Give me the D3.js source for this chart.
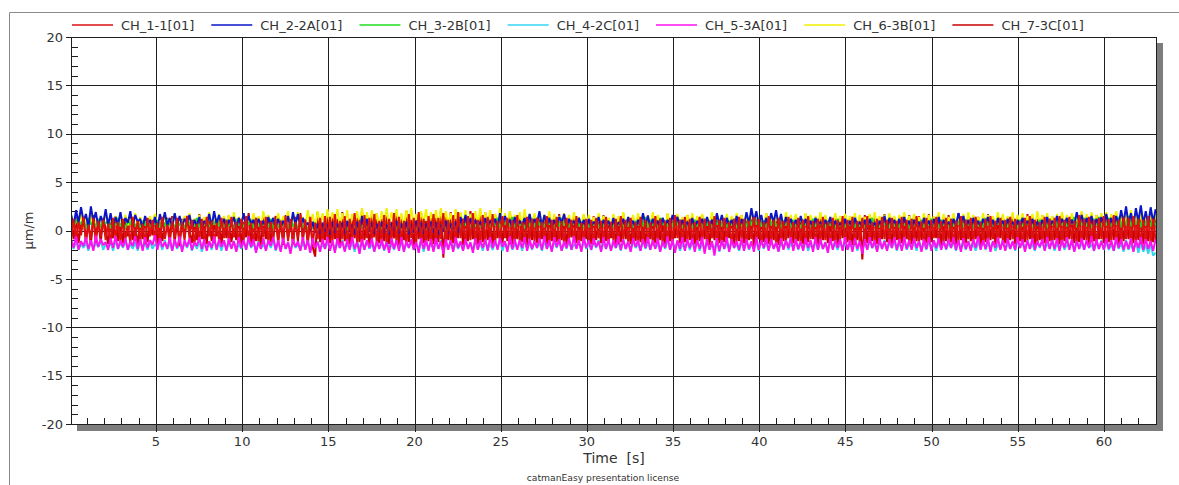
<!DOCTYPE html>
<html>
<head>
<meta charset="utf-8">
<script src="https://cdn.jsdelivr.net/npm/d3@7"></script>
<style>
  html, body { margin: 0; padding: 0; background: #fff; }
  svg { display: block; }
  text { font-family: "DejaVu Sans", Verdana, sans-serif; fill: #333; }
</style>
</head>
<body>
<svg id="chart" width="1179" height="485"></svg>
<script>
// Recording window (s); samples are evenly spaced across it
const timeStart = 0.08;
const timeEnd = 63.0;

const channelNames = ["CH_1-1[01]", "CH_2-2A[01]", "CH_3-2B[01]", "CH_4-2C[01]", "CH_5-3A[01]", "CH_6-3B[01]", "CH_7-3C[01]"];
const channelColors = ["#dd1111", "#0a14c8", "#22dd22", "#33d6ee", "#ff10f0", "#f2f200", "#c80000"];

const yTicks = [-20, -15, -10, -5, 0, 5, 10, 15, 20];
const xTicks = [5, 10, 15, 20, 25, 30, 35, 40, 45, 50, 55, 60];

// strain samples, µm/m (21 samples per row = 3 s)
const ch1 = [
 -0.8,1.2,-1.1,0.9,-0.5,1.4,-1.2,0.6,-0.9,1.3,-1.3,1.0,-0.6,1.1,-1.0,0.7,-1.4,1.3,-0.7,0.9,-1.1,
 1.2,-0.9,0.5,-1.3,1.4,-0.8,1.0,-1.1,0.7,-1.4,1.3,-0.6,1.1,-1.0,0.8,-1.2,1.4,-0.9,0.6,-1.3,1.0,
 -0.7,1.3,-1.2,0.9,-1.0,1.5,-0.8,1.1,-1.4,0.7,-0.9,1.2,-1.1,1.4,-0.6,1.0,-1.3,0.8,-1.0,1.3,-0.8,
 1.1,-1.2,1.4,-0.7,0.9,-1.3,1.2,-1.0,1.5,-0.9,0.8,-1.4,1.3,-1.1,1.0,-0.7,1.4,-1.2,0.9,-1.0,1.2,
 -1.3,1.0,-0.8,1.5,-1.1,1.2,-1.4,0.9,-0.7,1.6,-1.2,1.1,-1.0,1.4,-1.5,0.8,-0.9,1.3,-1.2,1.5,-0.8,
 1.4,-1.1,1.7,-1.3,1.0,-0.9,1.5,-1.4,1.2,-1.0,1.8,-1.2,1.1,-1.5,1.6,-0.8,1.3,-1.1,1.7,-1.3,1.0,
 -1.0,1.6,-1.4,1.2,-0.9,1.8,-1.2,1.4,-1.1,1.0,-1.5,1.7,-0.8,1.3,-1.3,1.9,-1.0,1.2,-1.4,1.5,-1.1,
 1.7,-1.2,1.3,-0.9,1.8,-1.5,1.1,-1.1,1.6,-1.3,1.9,-0.8,1.2,-1.4,1.5,-1.0,1.8,-1.2,1.1,-1.3,1.6,
 -1.1,1.4,-0.9,1.7,-1.3,1.0,-1.2,1.5,-0.8,1.3,-1.4,1.1,-1.0,1.6,-1.2,0.9,-1.3,1.4,-0.9,1.2,-1.1,
 1.3,-1.2,0.9,-1.0,1.5,-1.3,1.1,-0.8,1.4,-1.2,1.0,-1.4,1.3,-0.9,1.1,-1.1,1.5,-1.3,0.8,-1.0,1.2,
 -1.2,1.1,-1.4,1.3,-0.8,1.0,-1.1,1.4,-1.3,0.9,-1.0,1.2,-1.4,1.5,-0.9,1.1,-1.2,1.3,-1.0,0.9,-1.3,
 1.4,-1.0,1.1,-1.3,0.9,-1.2,1.5,-0.9,1.2,-1.4,1.0,-1.1,1.3,-1.2,1.6,-0.8,1.1,-1.3,1.4,-1.0,1.2,
 -1.3,0.9,-1.1,1.4,-1.0,1.2,-1.4,1.0,-0.8,1.5,-1.2,1.1,-1.3,1.3,-1.0,0.9,-1.4,1.2,-1.1,1.4,-0.9,
 1.2,-1.3,1.0,-0.9,1.4,-1.1,1.2,-1.4,0.9,-1.0,1.5,-1.2,1.1,-1.3,1.3,-0.8,1.0,-1.2,1.4,-1.1,0.9,
 -1.0,1.3,-1.2,1.1,-1.4,1.5,-0.9,1.0,-1.3,1.2,-1.1,1.4,-1.0,0.9,-1.4,1.3,-1.2,1.1,-0.9,1.5,-1.3,
 1.1,-1.1,1.4,-1.5,1.0,-1.2,1.3,-1.0,1.5,-1.3,0.9,-1.1,1.2,-1.4,1.4,-0.9,1.1,-1.2,1.3,-1.0,1.0,
 -1.2,1.4,-1.0,1.1,-1.3,1.2,-0.9,1.5,-1.1,1.0,-1.4,1.3,-1.2,1.1,-0.8,1.4,-1.3,1.0,-1.1,1.3,-1.0,
 1.2,-1.4,1.0,-1.1,1.5,-1.2,1.1,-0.9,1.3,-1.3,1.4,-1.0,0.9,-1.2,1.2,-1.1,1.5,-0.9,1.0,-1.3,1.3,
 -1.1,1.1,-1.3,1.4,-0.9,1.2,-1.2,1.0,-1.4,1.3,-1.0,1.5,-1.1,1.1,-1.3,0.9,-1.0,1.4,-1.2,1.2,-1.4,
 1.3,-1.0,1.5,-1.2,1.1,-1.3,1.4,-0.9,1.0,-1.1,1.6,-1.3,1.2,-1.0,1.4,-1.2,1.1,-1.4,1.3,-0.9,1.5,
 -1.2,1.2,-1.0,1.6,-1.3,1.1,-1.1,1.4,-0.9,1.3,-1.2,1.5,-1.0,1.2,-1.4,1.1,-1.1,1.5,-1.3,1.2,-1.0
];
const ch2 = [
 1.6,0.5,2.1,0.8,2.4,1.0,1.7,0.3,2.5,0.9,1.9,0.4,1.5,0.7,2.2,0.5,1.8,0.2,1.4,0.6,1.9,
 0.4,1.3,0.8,2.0,0.5,1.6,0.9,1.2,0.3,1.5,0.6,1.1,0.4,1.4,0.2,1.7,0.7,1.9,0.5,1.3,0.3,
 1.8,0.6,1.5,0.4,1.2,0.8,1.6,0.3,1.1,0.5,1.4,0.2,1.0,0.6,1.7,0.4,2.0,0.7,1.6,0.5,1.2,
 0.3,1.1,0.6,1.4,0.2,1.3,0.5,1.8,0.4,1.5,0.7,1.1,0.3,1.2,0.5,1.0,0.2,1.4,0.6,1.3,0.4,
 1.2,0.3,1.0,0.5,1.5,0.2,1.9,0.6,1.7,0.4,1.3,0.5,0.8,0.0,0.9,-0.2,0.7,-0.3,0.8,-0.1,0.6,
 -0.4,0.9,-0.2,0.7,0.0,0.8,-0.3,1.0,-0.1,0.6,-0.4,0.9,-0.2,1.5,0.3,1.2,0.0,0.8,-0.3,0.7,-0.1,
 0.9,-0.2,0.6,-0.4,0.8,0.0,1.0,-0.3,0.7,-0.1,0.9,-0.4,0.6,-0.2,1.0,-0.1,0.8,-0.3,0.7,0.0,0.9,
 -0.2,0.8,-0.4,0.6,-0.1,1.0,-0.3,0.7,0.1,0.9,-0.2,1.4,0.4,1.6,0.2,1.3,0.3,1.1,0.5,0.9,0.2,
 1.3,0.4,1.0,0.6,1.2,0.3,1.8,0.5,1.5,0.7,1.1,0.2,1.4,0.4,1.0,0.6,1.3,0.3,1.7,0.5,1.2,
 0.7,2.0,0.4,1.6,0.6,1.3,0.3,1.1,0.5,1.4,0.8,1.7,0.4,1.2,0.6,1.0,0.3,1.3,0.5,1.1,0.2,
 1.2,0.4,0.9,0.6,1.4,0.3,1.1,0.5,1.0,0.2,1.3,0.4,0.8,0.6,1.2,0.3,1.4,0.5,1.0,0.2,1.1,
 0.4,1.8,0.6,1.5,0.3,1.2,0.5,1.0,0.2,1.3,0.6,1.1,0.4,1.6,0.7,1.4,0.3,1.1,0.5,0.9,0.2,
 1.3,0.4,1.0,0.6,1.2,0.3,1.4,0.5,1.1,0.2,1.8,0.6,1.6,0.4,1.3,0.5,1.1,0.3,1.5,0.2,1.2,
 0.5,1.9,0.7,2.3,0.9,2.0,0.6,1.6,0.4,1.3,0.6,1.8,0.8,2.1,0.5,1.7,0.3,1.4,0.6,1.2,0.4,
 1.1,0.3,1.5,0.5,1.2,0.2,1.0,0.4,1.3,0.6,0.9,0.3,1.1,0.5,1.4,0.2,1.0,0.4,0.8,0.3,1.2,
 0.4,1.0,0.2,1.3,0.5,0.9,0.3,1.1,0.1,1.2,0.4,0.8,0.2,1.0,0.5,1.5,0.3,1.3,0.6,1.1,0.4,
 1.2,0.3,1.4,0.5,1.0,0.2,1.1,0.4,0.9,0.3,1.3,0.5,1.0,0.2,1.2,0.4,1.4,0.3,1.1,0.5,0.9,
 0.3,1.2,0.5,1.8,0.7,1.5,0.4,1.1,0.2,1.3,0.5,1.0,0.3,1.2,0.6,1.4,0.4,1.1,0.2,1.3,0.5,
 1.0,0.3,1.2,0.5,0.9,0.2,1.1,0.4,1.3,0.6,1.0,0.3,1.2,0.4,0.9,0.2,1.1,0.5,1.4,0.3,1.0,
 0.6,1.5,0.4,1.2,0.7,1.3,0.3,1.1,0.5,1.9,0.8,1.6,0.4,1.3,0.6,1.5,0.3,1.2,0.5,1.4,0.6,
 1.7,0.5,1.3,0.4,1.5,0.6,2.1,0.8,2.5,0.7,1.8,0.5,2.3,0.9,2.6,0.7,2.0,0.6,2.4,0.8,2.2
];
const ch3 = [
 1.0,0.3,1.2,0.5,0.8,1.1,0.2,1.3,0.6,0.9,0.4,1.2,0.3,1.0,0.7,1.1,0.2,0.9,0.5,1.3,0.4,
 0.9,0.2,1.1,0.6,1.3,0.4,0.8,0.3,1.0,0.5,1.2,0.2,0.9,0.6,1.1,0.3,1.0,0.4,1.2,0.5,0.8,
 0.3,1.1,0.5,0.9,0.2,1.2,0.6,1.0,0.4,1.3,0.3,0.8,0.5,1.1,0.2,1.0,0.6,1.2,0.4,0.9,0.3,
 1.1,0.4,0.9,0.2,1.2,0.5,1.0,0.3,0.8,0.6,1.1,0.2,1.3,0.4,0.9,0.5,1.0,0.3,1.2,0.1,0.9,
 0.3,1.0,0.5,0.8,0.2,1.1,0.4,0.9,0.1,1.0,0.3,0.7,0.0,0.9,0.2,0.8,0.1,0.7,0.3,0.9,0.0,
 0.8,0.2,0.9,0.1,0.7,0.3,1.0,0.0,0.8,0.2,0.6,0.1,0.9,0.3,0.7,0.0,0.8,0.2,1.0,0.1,0.7,
 0.2,0.9,0.0,0.8,0.3,0.7,0.1,1.0,0.2,0.8,0.0,0.9,0.3,0.7,0.1,0.8,0.2,1.0,0.0,0.9,0.3,
 0.8,0.1,0.9,0.3,0.7,0.0,1.0,0.2,0.8,0.4,1.1,0.3,1.2,0.5,0.9,0.2,1.0,0.4,0.8,0.3,1.1,
 0.4,1.2,0.3,1.0,0.5,1.3,0.2,0.9,0.6,1.1,0.4,1.4,0.3,1.0,0.5,0.8,0.2,1.1,0.4,1.2,0.3,
 1.3,0.5,1.0,0.3,1.2,0.6,0.9,0.2,1.1,0.4,1.3,0.5,0.8,0.3,1.0,0.6,1.2,0.4,0.9,0.2,1.1,
 0.3,1.0,0.5,1.2,0.2,0.9,0.4,1.1,0.6,0.8,0.3,1.0,0.5,1.2,0.2,0.9,0.4,1.1,0.3,1.0,0.5,
 1.2,0.4,1.4,0.3,1.1,0.5,0.9,0.2,1.3,0.6,1.0,0.4,1.2,0.3,1.5,0.5,1.1,0.2,0.9,0.4,1.0,
 0.2,1.1,0.4,0.9,0.3,1.2,0.5,1.0,0.2,1.3,0.6,1.1,0.4,0.9,0.3,1.0,0.5,1.2,0.2,0.8,0.4,
 1.1,0.3,1.3,0.5,1.4,0.6,1.2,0.4,1.0,0.3,1.1,0.5,1.3,0.4,0.9,0.2,1.0,0.5,1.2,0.3,1.1,
 0.4,0.9,0.2,1.1,0.5,1.0,0.3,1.2,0.4,0.8,0.6,1.1,0.3,1.0,0.5,0.9,0.2,1.2,0.4,1.0,0.3,
 1.0,0.5,1.2,0.3,0.9,0.4,1.1,0.2,1.0,0.6,1.3,0.4,0.8,0.3,1.1,0.5,1.0,0.2,1.2,0.4,0.9,
 0.3,1.1,0.5,0.9,0.2,1.2,0.4,1.0,0.6,1.1,0.3,0.9,0.5,1.2,0.4,1.0,0.2,1.1,0.5,0.8,0.3,
 1.2,0.4,1.0,0.6,1.4,0.3,1.1,0.5,0.9,0.2,1.2,0.4,1.0,0.3,1.3,0.5,1.1,0.4,0.9,0.6,1.2,
 0.4,1.0,0.3,1.2,0.5,0.9,0.2,1.1,0.4,1.0,0.6,1.2,0.3,0.9,0.5,1.1,0.4,1.0,0.2,1.2,0.5,
 1.1,0.3,1.3,0.5,1.0,0.4,1.2,0.6,1.4,0.3,1.1,0.5,1.3,0.4,1.0,0.2,1.2,0.5,1.4,0.3,1.1,
 0.5,1.3,0.4,1.1,0.6,1.4,0.3,1.2,0.5,1.5,0.4,1.1,0.6,1.3,0.3,1.2,0.5,1.4,0.4,1.2,0.5
];
const ch4 = [
 -1.3,-1.9,-1.1,-2.0,-1.4,-1.8,-1.2,-2.1,-1.0,-1.9,-1.3,-1.7,-1.1,-2.0,-1.4,-1.8,-1.2,-2.1,-1.0,-1.9,-1.3,
 -1.8,-1.1,-2.0,-1.4,-1.9,-1.2,-2.1,-1.0,-1.8,-1.3,-2.0,-1.1,-1.9,-1.4,-1.7,-1.2,-2.0,-1.0,-1.9,-1.3,-2.1,
 -1.1,-1.9,-1.4,-2.0,-1.2,-1.8,-1.0,-2.1,-1.3,-1.9,-1.1,-2.2,-1.4,-1.8,-1.2,-2.0,-1.0,-1.9,-1.3,-2.1,-1.1,
 -2.0,-1.3,-1.8,-1.1,-2.1,-1.4,-1.9,-1.2,-2.0,-1.0,-1.8,-1.3,-2.1,-1.1,-1.9,-1.4,-2.0,-1.2,-1.8,-1.0,-2.1,
 -1.2,-2.0,-1.0,-1.9,-1.3,-2.1,-1.1,-1.8,-1.4,-2.0,-1.2,-1.9,-1.0,-2.1,-1.3,-1.8,-1.1,-2.0,-1.4,-1.9,-1.2,
 -1.9,-1.1,-2.1,-1.3,-1.8,-1.0,-2.0,-1.4,-1.9,-1.2,-2.2,-1.1,-1.8,-1.3,-2.0,-1.0,-1.9,-1.4,-2.1,-1.2,-1.8,
 -1.3,-2.1,-1.1,-1.8,-1.4,-2.0,-1.0,-1.9,-1.2,-2.1,-1.3,-1.8,-1.1,-2.0,-1.4,-1.9,-1.0,-2.2,-1.2,-1.8,-1.3,
 -2.0,-1.2,-1.9,-1.0,-2.1,-1.4,-1.8,-1.1,-2.0,-1.3,-1.9,-1.2,-2.1,-1.0,-1.8,-1.4,-2.0,-1.1,-1.9,-1.3,-2.1,
 -1.1,-1.9,-1.4,-2.0,-1.2,-1.8,-1.0,-2.1,-1.3,-1.9,-1.1,-2.0,-1.4,-1.8,-1.2,-2.1,-1.0,-1.9,-1.3,-2.0,-1.1,
 -1.8,-1.3,-2.1,-1.1,-1.9,-1.4,-2.0,-1.2,-1.8,-1.0,-2.1,-1.3,-1.9,-1.1,-2.0,-1.4,-1.8,-1.2,-2.1,-1.0,-1.9,
 -1.4,-2.0,-1.2,-1.8,-1.0,-2.1,-1.3,-1.9,-1.1,-2.0,-1.4,-1.8,-1.2,-2.1,-1.0,-1.9,-1.3,-2.0,-1.1,-1.8,-1.4,
 -2.1,-1.0,-1.9,-1.3,-2.0,-1.1,-1.8,-1.4,-2.1,-1.2,-1.9,-1.0,-2.0,-1.3,-1.8,-1.1,-2.1,-1.4,-1.9,-1.2,-2.0,
 -1.2,-1.8,-1.0,-2.1,-1.3,-1.9,-1.1,-2.0,-1.4,-1.8,-1.2,-2.2,-1.0,-1.9,-1.3,-2.0,-1.1,-1.8,-1.4,-2.1,-1.2,
 -1.9,-1.1,-2.0,-1.4,-1.8,-1.2,-2.1,-1.0,-1.9,-1.3,-2.0,-1.1,-1.8,-1.4,-2.1,-1.2,-1.9,-1.0,-2.0,-1.3,-1.8,
 -1.1,-2.0,-1.3,-1.9,-1.0,-2.1,-1.4,-1.8,-1.2,-2.0,-1.1,-1.9,-1.3,-2.1,-1.0,-1.8,-1.4,-2.0,-1.2,-1.9,-1.1,
 -2.0,-1.4,-1.8,-1.2,-2.1,-1.0,-1.9,-1.3,-2.0,-1.1,-1.8,-1.4,-2.1,-1.2,-1.9,-1.0,-2.0,-1.3,-1.8,-1.1,-2.1,
 -1.3,-1.9,-1.1,-2.0,-1.4,-1.8,-1.2,-2.1,-1.0,-1.9,-1.3,-2.0,-1.1,-1.8,-1.4,-2.1,-1.2,-1.9,-1.0,-2.0,-1.3,
 -1.8,-1.2,-2.1,-1.0,-1.9,-1.3,-2.0,-1.1,-1.8,-1.4,-2.1,-1.2,-1.9,-1.0,-2.0,-1.3,-1.8,-1.1,-2.1,-1.4,-1.9,
 -1.0,-2.0,-1.4,-1.9,-1.2,-2.1,-1.1,-1.8,-1.3,-2.0,-1.0,-1.9,-1.4,-2.1,-1.2,-1.8,-1.1,-2.0,-1.3,-1.9,-1.0,
 -2.1,-1.3,-1.9,-1.1,-2.0,-1.4,-1.8,-1.2,-2.1,-1.0,-1.9,-1.3,-2.0,-1.1,-1.8,-1.4,-2.1,-1.2,-1.9,-1.0,-2.0,
 -1.2,-2.0,-1.4,-2.1,-1.1,-1.9,-1.3,-2.2,-1.0,-2.0,-1.4,-2.1,-1.2,-2.3,-1.3,-2.2,-1.5,-2.4,-1.4,-2.6,-2.3
];
const ch5 = [
 -0.9,-1.8,-0.6,-2.0,-1.1,-1.6,-0.7,-1.9,-1.0,-2.1,-0.5,-1.7,-0.9,-1.5,-1.2,-2.0,-0.8,-1.8,-0.6,-1.9,-1.0,
 -1.7,-0.8,-2.0,-1.1,-1.6,-0.6,-1.9,-0.9,-2.1,-0.7,-1.8,-1.0,-1.5,-0.5,-2.0,-0.8,-1.7,-1.2,-1.9,-0.7,-2.1,
 -0.9,-1.8,-0.6,-2.2,-1.0,-1.7,-0.8,-2.0,-1.2,-1.6,-0.7,-1.9,-0.9,-2.1,-1.1,-1.8,-0.6,-2.0,-0.9,-1.7,-1.0,
 -2.1,-0.8,-1.9,-1.1,-2.2,-0.7,-1.8,-1.0,-2.0,-0.6,-1.7,-0.9,-2.3,-1.2,-1.9,-0.8,-2.1,-1.0,-1.6,-0.7,-2.0,
 -1.0,-2.2,-0.8,-1.9,-1.2,-2.4,-0.9,-1.7,-1.1,-2.1,-0.7,-2.0,-1.0,-2.3,-0.8,-1.8,-1.2,-2.2,-0.9,-1.9,-0.7,
 -2.1,-1.0,-2.3,-0.8,-1.8,-1.1,-2.2,-0.9,-2.0,-0.7,-1.9,-1.2,-2.4,-0.9,-2.0,-1.0,-1.8,-0.8,-2.2,-1.1,-1.9,
 -0.9,-2.0,-1.2,-2.3,-0.8,-1.9,-1.0,-2.1,-0.7,-2.2,-1.1,-1.8,-0.9,-2.0,-1.2,-2.3,-0.8,-1.9,-1.0,-2.1,-0.9,
 -2.2,-0.8,-1.9,-1.1,-2.4,-0.9,-2.0,-1.0,-2.2,-0.7,-1.8,-1.1,-2.1,-0.9,-1.9,-1.2,-2.3,-0.8,-2.0,-1.0,-1.8,
 -0.9,-2.1,-0.7,-1.8,-1.0,-2.0,-0.8,-1.7,-1.1,-2.2,-0.6,-1.9,-0.9,-2.0,-1.0,-1.8,-0.7,-2.1,-0.9,-1.9,-1.1,
 -1.8,-0.8,-2.0,-0.6,-1.9,-1.0,-2.2,-0.7,-1.7,-0.9,-2.1,-1.1,-1.8,-0.8,-2.0,-0.6,-1.9,-1.0,-2.2,-0.7,-1.8,
 -1.0,-2.0,-0.8,-1.7,-1.1,-2.2,-0.7,-1.9,-0.9,-2.1,-1.0,-1.8,-0.6,-2.0,-0.9,-1.9,-1.1,-2.2,-0.8,-1.7,-1.0,
 -2.1,-0.9,-1.8,-0.7,-2.0,-1.0,-1.9,-0.8,-2.2,-1.1,-1.8,-0.6,-2.0,-0.9,-2.3,-1.0,-1.9,-0.7,-2.1,-0.9,-1.8,
 -0.8,-2.2,-1.0,-1.9,-0.7,-2.4,-0.9,-2.0,-1.1,-2.6,-0.8,-2.1,-1.0,-1.9,-0.7,-2.2,-0.9,-1.8,-1.1,-2.0,-0.8,
 -2.1,-0.9,-1.9,-1.1,-2.2,-0.7,-2.0,-1.0,-1.8,-0.8,-2.1,-0.9,-1.9,-1.2,-2.2,-0.8,-2.0,-1.0,-1.8,-0.7,-2.1,
 -0.9,-1.9,-1.1,-2.1,-0.8,-1.8,-1.0,-2.2,-0.7,-2.0,-0.9,-1.9,-1.2,-2.3,-0.8,-2.0,-1.0,-1.8,-0.9,-2.1,-0.7,
 -2.0,-1.0,-2.2,-0.8,-1.9,-1.1,-2.4,-0.9,-2.0,-0.7,-1.8,-1.0,-2.2,-0.8,-1.9,-1.1,-2.1,-0.9,-1.8,-0.7,-2.0,
 -0.9,-2.1,-0.7,-1.9,-1.0,-2.0,-0.8,-1.8,-1.1,-2.2,-0.9,-1.9,-0.7,-2.1,-1.0,-1.8,-0.8,-2.0,-1.1,-1.9,-0.9,
 -1.8,-0.7,-2.0,-1.0,-2.2,-0.8,-1.9,-1.1,-2.1,-0.9,-1.8,-0.6,-2.0,-1.0,-1.9,-0.8,-2.2,-1.1,-1.8,-0.7,-2.0,
 -1.0,-2.1,-0.8,-1.9,-1.1,-2.0,-0.7,-1.8,-0.9,-2.2,-1.0,-1.9,-0.8,-2.0,-1.1,-1.7,-0.9,-2.1,-0.7,-1.9,-1.0,
 -1.9,-0.8,-2.1,-1.0,-1.8,-0.7,-2.0,-0.9,-2.2,-1.1,-1.9,-0.8,-2.0,-1.0,-1.8,-0.6,-2.1,-0.9,-1.9,-1.1,-2.0,
 -0.8,-1.9,-1.0,-2.1,-0.7,-1.8,-0.9,-2.0,-1.1,-1.9,-0.8,-2.2,-1.0,-1.8,-0.7,-2.0,-0.9,-1.9,-1.1,-2.1,-0.9
];
const ch6 = [
 1.5,0.4,1.2,0.7,1.7,0.3,1.3,0.6,1.6,0.2,1.1,0.5,1.4,0.8,1.8,0.4,1.2,0.6,1.5,0.3,1.3,
 0.5,1.6,0.3,1.2,0.7,1.8,0.4,1.4,0.6,1.1,0.2,1.5,0.5,1.7,0.3,1.3,0.6,1.6,0.4,1.2,0.7,
 1.7,0.4,1.3,0.6,1.5,0.2,1.8,0.5,1.2,0.7,1.6,0.3,1.4,0.6,1.9,0.4,1.3,0.5,1.7,0.2,1.5,
 0.6,1.6,0.3,1.9,0.5,1.4,0.7,1.7,0.4,1.2,0.6,1.8,0.3,1.5,0.5,2.0,0.4,1.6,0.7,1.3,0.5,
 1.8,0.4,1.5,0.7,2.0,0.3,1.6,0.5,1.9,0.6,1.4,0.4,2.1,0.5,1.7,0.3,2.0,0.6,1.8,0.4,2.2,
 0.5,1.9,0.7,2.2,0.4,1.8,0.6,2.1,0.3,1.7,0.5,2.0,0.7,2.3,0.4,1.9,0.6,2.1,0.5,1.8,0.3,
 2.0,0.6,2.3,0.4,1.9,0.7,2.2,0.5,1.8,0.3,2.1,0.6,2.3,0.4,1.7,0.5,2.0,0.7,2.2,0.4,1.9,
 0.6,2.1,0.4,2.3,0.5,2.0,0.7,1.8,0.3,2.2,0.6,1.9,0.4,2.1,0.5,1.7,0.3,2.0,0.6,2.3,0.4,
 1.9,0.5,2.1,0.3,1.7,0.6,2.3,0.4,1.8,0.5,2.0,0.7,1.6,0.3,1.9,0.5,2.2,0.4,1.7,0.6,1.8,
 0.4,1.9,0.6,1.6,0.3,2.0,0.5,1.7,0.4,1.5,0.6,1.8,0.3,1.6,0.5,1.9,0.4,1.4,0.6,1.7,0.3,
 1.6,0.5,1.4,0.3,1.8,0.6,1.5,0.4,1.3,0.5,1.7,0.3,1.5,0.6,1.9,0.4,1.4,0.5,1.6,0.3,1.8,
 0.5,1.7,0.3,1.5,0.6,1.9,0.4,1.6,0.5,1.3,0.3,1.8,0.6,1.5,0.4,1.7,0.5,1.4,0.3,1.6,0.6,
 1.8,0.4,1.5,0.6,1.7,0.3,1.4,0.5,1.9,0.4,1.6,0.6,1.3,0.3,1.7,0.5,1.5,0.4,1.8,0.6,1.6,
 0.3,1.6,0.5,1.9,0.4,1.7,0.6,1.5,0.3,1.8,0.5,1.4,0.4,1.7,0.6,1.5,0.3,1.9,0.5,1.6,0.4,
 1.7,0.5,1.4,0.3,1.8,0.6,1.6,0.4,1.5,0.5,1.9,0.3,1.6,0.6,1.4,0.4,1.8,0.5,1.5,0.3,1.7,
 0.6,1.5,0.4,1.8,0.3,1.6,0.5,1.4,0.6,1.7,0.4,1.9,0.5,1.5,0.3,1.6,0.6,1.8,0.4,1.5,0.5,
 1.6,0.3,1.9,0.5,1.5,0.4,1.7,0.6,1.4,0.3,1.8,0.5,1.6,0.4,1.5,0.6,1.9,0.3,1.7,0.5,1.4,
 0.4,1.8,0.6,1.5,0.3,1.7,0.5,1.9,0.4,1.6,0.6,1.4,0.3,1.8,0.5,1.6,0.4,1.5,0.6,1.9,0.3,
 1.7,0.5,1.5,0.4,1.9,0.3,1.6,0.6,1.8,0.4,1.5,0.5,1.7,0.3,2.0,0.6,1.6,0.4,1.8,0.5,1.5,
 0.5,1.7,0.3,1.9,0.6,1.6,0.4,1.8,0.5,1.5,0.3,2.0,0.6,1.7,0.4,1.9,0.5,1.6,0.3,1.8,0.6,
 1.9,0.4,1.7,0.6,2.0,0.5,1.6,0.3,1.8,0.6,2.1,0.4,1.7,0.5,1.9,0.3,1.6,0.5,1.8,0.4,1.7
];
const ch7 = [
 1.1,-0.9,1.4,-1.3,0.6,1.2,-1.0,0.8,-1.5,1.6,-0.7,1.0,-1.2,1.3,0.2,-1.4,0.9,-0.8,1.5,-1.1,0.7,
 -1.3,1.2,-0.6,1.7,-1.0,0.4,-1.5,1.1,-0.9,1.4,-1.2,0.8,-0.5,1.6,-1.4,1.0,-1.1,0.6,1.3,-0.8,1.5,
 -1.2,0.9,-1.6,1.2,-0.7,1.5,0.1,-1.3,1.0,-1.0,1.7,-0.9,0.7,-1.4,1.3,-1.1,0.8,-0.6,1.4,-1.5,1.1,
 -0.8,1.6,-1.2,0.5,-1.0,1.3,-1.4,0.9,-0.7,1.8,-1.3,1.0,-1.1,0.6,-1.6,1.4,-0.9,1.2,-1.2,0.7,1.5,
 -1.0,1.1,-1.5,1.6,-0.8,0.9,-1.3,1.4,-1.1,1.8,-0.6,1.2,-1.4,1.0,-1.7,-2.7,1.9,-1.2,0.8,-1.0,1.5,
 -1.3,1.7,-0.9,1.2,-1.5,1.9,-1.1,0.7,-1.4,1.6,-0.8,1.3,-1.2,2.0,-1.0,1.1,-1.6,1.5,-0.7,1.8,-1.3,
 1.2,-1.1,1.9,-1.4,0.9,-0.8,1.7,-1.5,1.4,-1.0,2.0,-1.2,1.1,-1.6,1.6,-0.9,1.8,-1.3,1.0,-1.1,1.7,
 -1.4,1.3,-1.2,2.0,-2.8,1.5,-1.0,1.9,-1.3,1.2,-0.8,1.8,-1.5,1.4,-1.1,2.0,-0.9,1.3,-1.4,1.6,-1.2,
 1.9,-1.0,1.2,-1.5,1.7,-0.8,1.4,-1.3,1.0,-1.1,1.8,-1.4,1.3,-0.9,1.6,-1.2,1.1,-1.5,1.5,-1.0,1.2,
 -1.3,1.6,-0.9,1.1,-1.4,1.5,-1.1,0.8,-1.2,1.7,-1.0,1.3,-1.5,1.0,-0.7,1.4,-1.3,1.2,-1.1,1.6,-0.9,
 1.1,-1.4,1.5,-1.0,0.9,-1.3,1.6,-1.1,1.2,-0.8,1.4,-1.5,1.0,-1.2,1.7,-0.9,1.3,-1.4,0.8,-1.1,1.5,
 -1.2,1.0,-1.5,1.6,-0.9,1.2,-1.3,1.4,-1.0,0.9,-1.4,1.7,-1.1,1.3,-0.8,1.5,-1.3,1.1,-1.2,1.6,-1.0,
 1.3,-1.4,1.0,-1.1,1.6,-0.9,1.2,-1.5,1.4,-1.0,1.7,-1.3,1.1,-1.2,1.5,-0.8,1.3,-1.4,0.9,-1.1,1.6,
 -1.3,1.4,-1.0,1.2,-1.6,1.5,-0.9,1.1,-1.2,1.8,-1.4,1.3,-1.0,1.0,-1.5,1.6,-1.1,1.2,-0.8,1.4,-1.3,
 1.5,-1.1,1.0,-1.4,1.7,-1.2,1.3,-0.9,1.1,-1.5,1.6,-1.0,1.4,-1.3,0.9,-1.1,1.5,-1.4,1.2,-0.8,1.6,
 -1.2,1.3,-1.5,1.1,-1.0,1.4,-3.0,1.6,-1.3,1.0,-1.1,1.5,-1.4,1.2,-0.9,1.7,-1.2,1.1,-1.5,1.3,-1.0,
 1.4,-1.3,1.1,-0.9,1.6,-1.4,1.2,-1.1,1.5,-1.0,0.9,-1.3,1.7,-1.2,1.3,-0.8,1.4,-1.5,1.0,-1.1,1.6,
 -1.2,1.2,-1.4,1.8,-1.0,1.3,-1.3,1.0,-1.1,1.5,-0.9,1.4,-1.5,1.1,-1.2,1.7,-1.0,1.3,-1.4,1.2,-0.8,
 1.5,-1.3,1.1,-1.0,1.6,-1.4,1.3,-1.1,1.0,-1.2,1.7,-0.9,1.4,-1.5,1.2,-1.0,1.6,-1.3,1.1,-1.1,1.5,
 -1.0,1.3,-1.4,1.7,-1.1,1.2,-0.9,1.5,-1.3,1.0,-1.2,1.8,-1.0,1.4,-1.5,1.3,-1.1,1.6,-0.9,1.2,-1.3,
 1.6,-1.2,1.4,-1.0,1.8,-1.4,1.1,-1.1,1.5,-0.9,1.3,-1.3,1.7,-1.0,1.2,-1.4,1.5,-1.1,1.4,-1.2,1.3
];

const channelValues = [ch1, ch2, ch3, ch4, ch5, ch6, ch7];
// paint order of the traces (index into the channel lists), last one on top
const paintOrder = [3, 6, 5, 2, 1, 0, 4];

const svg = d3.select("#chart");
const W = 1179, H = 485;
const plot = { left: 71, right: 1157, top: 37, bottom: 424 };

svg.append("rect").attr("width", W).attr("height", H).attr("fill", "#fff");

// outer panel border
svg.append("path")
  .attr("d", `M9.5,${H} V12.5 H${W}`)
  .attr("fill", "none").attr("stroke", "#8a8a8a").attr("stroke-width", 1);

const x = d3.scaleLinear().domain([0.07, 63.08]).range([plot.left, plot.right]);
const y = d3.scaleLinear().domain([-20, 20]).range([plot.bottom, plot.top]);

// drop shadow of the plot frame
svg.append("rect").attr("x", plot.right).attr("y", plot.top + 6)
  .attr("width", 6).attr("height", plot.bottom - plot.top + 1).attr("fill", "#7d7d7d");
svg.append("rect").attr("x", plot.left + 6).attr("y", plot.bottom)
  .attr("width", plot.right - plot.left).attr("height", 7).attr("fill", "#7d7d7d");

svg.append("rect").attr("x", plot.left).attr("y", plot.top)
  .attr("width", plot.right - plot.left).attr("height", plot.bottom - plot.top)
  .attr("fill", "#fff");

const gridColor = "#1e1e1e";
const grid = svg.append("g").attr("stroke", gridColor).attr("stroke-width", 1).attr("shape-rendering", "crispEdges");

// vertical grid lines, running slightly past the bottom edge as major ticks
grid.selectAll("line.vx").data(xTicks).join("line").attr("class", "vx")
  .attr("x1", d => Math.round(x(d)) + 0.5).attr("x2", d => Math.round(x(d)) + 0.5)
  .attr("y1", plot.top).attr("y2", plot.bottom + 8);

// horizontal grid lines, with short major ticks out to the left
grid.selectAll("line.hy").data(yTicks).join("line").attr("class", "hy")
  .attr("x1", plot.left - 5).attr("x2", plot.right)
  .attr("y1", d => Math.round(y(d)) + 0.5).attr("y2", d => Math.round(y(d)) + 0.5);

// frame sides
grid.append("line").attr("x1", plot.left + 0.5).attr("x2", plot.left + 0.5)
  .attr("y1", plot.top).attr("y2", plot.bottom + 1);
grid.append("line").attr("x1", plot.right - 0.5).attr("x2", plot.right - 0.5)
  .attr("y1", plot.top).attr("y2", plot.bottom + 1);

// minor ticks, every 1 unit
const yMinor = d3.range(-19, 20).filter(v => v % 5 !== 0);
grid.selectAll("line.my").data(yMinor).join("line").attr("class", "my")
  .attr("x1", plot.left).attr("x2", plot.left + 7)
  .attr("y1", d => Math.round(y(d)) + 0.5).attr("y2", d => Math.round(y(d)) + 0.5);
const xMinor = d3.range(1, 63).filter(v => v % 5 !== 0);
grid.selectAll("line.mx").data(xMinor).join("line").attr("class", "mx")
  .attr("x1", d => Math.round(x(d)) + 0.5).attr("x2", d => Math.round(x(d)) + 0.5)
  .attr("y1", plot.bottom - 6).attr("y2", plot.bottom);

// tick labels
svg.append("g").selectAll("text").data(yTicks).join("text")
  .attr("x", plot.left - 8).attr("y", d => y(d)).attr("dy", "0.36em")
  .attr("text-anchor", "end").attr("font-size", 13).text(d => d);
svg.append("g").selectAll("text").data(xTicks).join("text")
  .attr("x", d => x(d)).attr("y", 446)
  .attr("text-anchor", "middle").attr("font-size", 13).text(d => d);

// axis titles
svg.append("text").attr("transform", `translate(33,${y(0)}) rotate(-90)`)
  .attr("text-anchor", "middle").attr("font-size", 13).text("µm/m");
svg.append("text").attr("x", (plot.left + plot.right) / 2).attr("y", 463)
  .attr("text-anchor", "middle").attr("font-size", 14).attr("xml:space", "preserve").text("Time  [s]");
svg.append("text").attr("x", 603).attr("y", 481)
  .attr("text-anchor", "middle").attr("font-size", 9.2).attr("fill", "#222").text("catmanEasy presentation license");

// traces
svg.append("clipPath").attr("id", "plotClip").append("rect")
  .attr("x", plot.left + 1).attr("y", plot.top).attr("width", plot.right - plot.left - 2).attr("height", plot.bottom - plot.top);

const traceLine = d3.line().x(d => x(d[0])).y(d => y(d[1]));
const traces = svg.append("g").attr("clip-path", "url(#plotClip)");
paintOrder.forEach(ci => {
  const vals = channelValues[ci];
  const n = vals.length;
  const pts = vals.map((v, i) => [timeStart + i * (timeEnd - timeStart) / (n - 1), v]);
  traces.append("path").datum(pts)
    .attr("fill", "none").attr("stroke", channelColors[ci]).attr("stroke-width", 2)
    .attr("stroke-linejoin", "bevel").attr("d", traceLine);
});

// legend, laid out left to right
const legend = svg.append("g");
let lx = 72;
channelNames.forEach((name, i) => {
  legend.append("line").attr("x1", lx).attr("x2", lx + 41).attr("y1", 25).attr("y2", 25)
    .style("stroke", channelColors[i]).attr("stroke-width", 1.6);
  const t = legend.append("text").attr("x", lx + 49).attr("y", 30).attr("font-size", 13).text(name);
  lx = lx + 49 + t.node().getComputedTextLength() + 17;
});
</script>
</body>
</html>
